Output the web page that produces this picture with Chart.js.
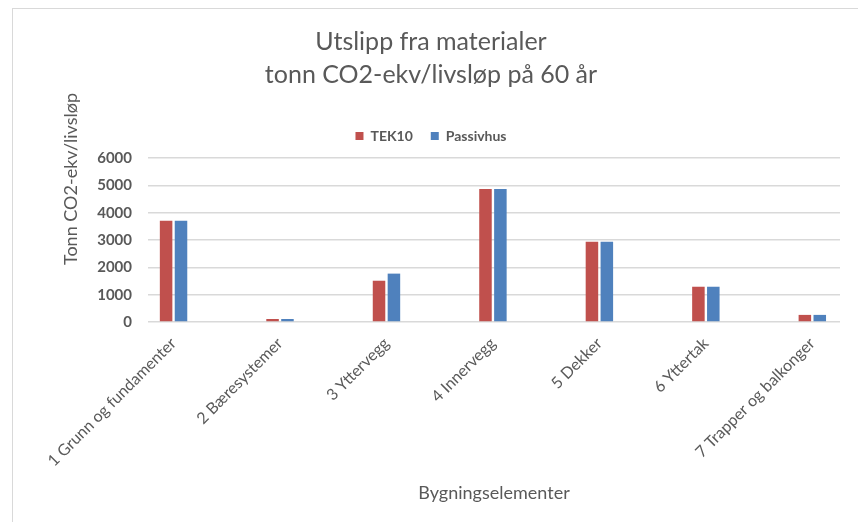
<!DOCTYPE html>
<html>
<head>
<meta charset="utf-8">
<script src="https://cdn.jsdelivr.net/npm/chart.js@4"></script>
<style>
  html, body { margin: 0; padding: 0; background: #fff; }
  #frame { position: absolute; left: 12px; top: 8px; width: 900px; height: 600px; border: 1px solid #d9d9d9; }
  #wrap { position: absolute; left: 0; top: 0; width: 858px; height: 522px; }
</style>
</head>
<body>
<div id="frame"></div>
<div id="wrap"><canvas id="c" width="858" height="522"></canvas></div>
<script>
const categories = [
  "1 Grunn og fundamenter",
  "2 Bæresystemer",
  "3 Yttervegg",
  "4 Innervegg",
  "5 Dekker",
  "6 Yttertak",
  "7 Trapper og balkonger"
];
const tek10 = [3700, 110, 1510, 4870, 2940, 1290, 260];
const passivhus = [3700, 110, 1770, 4870, 2940, 1290, 260];
const yTicks = [0, 1000, 2000, 3000, 4000, 5000, 6000];

const FONT = "Lato, 'Open Sans', sans-serif";
const GRAY = "#595959";

const yTitlePlugin = {
  id: 'yTitle',
  afterDraw(chart) {
    const ctx = chart.ctx;
    ctx.save();
    ctx.translate(71, 179);
    ctx.rotate(-Math.PI / 2);
    ctx.font = "18px " + FONT;
    ctx.fillStyle = GRAY;
    ctx.textAlign = "center";
    ctx.textBaseline = "middle";
    ctx.fillText("Tonn CO2-ekv/livsløp", 0, 0);
    ctx.restore();
  }
};

new Chart(document.getElementById('c'), {
  type: 'bar',
  data: {
    datasets: [
      { label: 'TEK10', data: tek10.map((v, i) => ({x: i, y: v})), backgroundColor: '#C0504D', borderWidth: 0 },
      { label: 'Passivhus', data: passivhus.map((v, i) => ({x: i, y: v})), backgroundColor: '#4F81BD', borderWidth: 0 }
    ]
  },
  options: {
    responsive: false,
    animation: false,
    devicePixelRatio: 1,
    categoryPercentage: 0.28,
    barPercentage: 0.84,
    layout: { padding: { left: 22, right: 18, top: 0, bottom: 0 } },
    plugins: {
      title: {
        display: true,
        text: ["Utslipp fra materialer", "tonn CO2-ekv/livsløp på 60 år"],
        color: GRAY,
        font: { family: FONT, size: 25, weight: 'normal', lineHeight: 1.3 },
        padding: { top: 26, bottom: 20 }
      },
      legend: {
        display: true,
        position: 'top',
        labels: {
          color: GRAY,
          font: { family: FONT, size: 14, weight: 'bold' },
          boxWidth: 8, boxHeight: 8,
          padding: 18
        }
      },
      tooltip: { enabled: false }
    },
    scales: {
      x: {
        type: 'linear',
        min: -0.24,
        max: 6.26,
        offset: false,
        grid: { display: false },
        border: { display: false },
        afterBuildTicks(scale) { scale.ticks = categories.map((c, i) => ({ value: i })); },
        afterFit(scale) { scale.height = 200; },
        ticks: {
          autoSkip: false,
          minRotation: 45,
          maxRotation: 45,
          padding: 4,
          color: GRAY,
          font: { family: FONT, size: 16 },
          callback: (v) => categories[v]
        },
        title: {
          display: true,
          text: 'Bygningselementer',
          color: GRAY,
          font: { family: FONT, size: 18 },
          padding: { top: 4, bottom: 18 }
        }
      },
      xTopGap: {
        type: 'linear',
        position: 'top',
        display: true,
        grid: { display: false },
        border: { display: false },
        ticks: { display: false },
        afterFit(scale) { scale.height = 5; }
      },
      y: {
        min: 0,
        max: 6000,
        afterBuildTicks(scale) { scale.ticks = yTicks.map(v => ({ value: v })); },
        afterFit(scale) { scale.width = 148 - 22; },
        grid: { color: '#d9d9d9', lineWidth: 1.5, drawTicks: false },
        border: { display: false },
        ticks: {
          padding: 16,
          color: GRAY,
          font: { family: FONT, size: 15, weight: 'bold' },
          callback: (v) => String(v)
        }
      }
    }
  },
  plugins: [yTitlePlugin]
});
</script>
</body>
</html>
